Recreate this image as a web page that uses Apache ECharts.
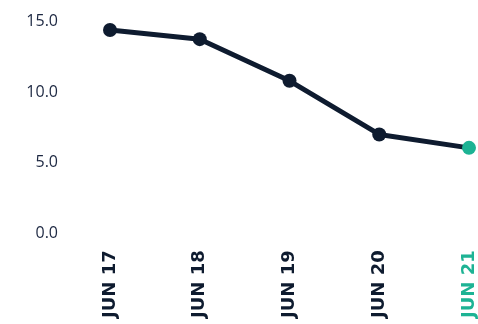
<!DOCTYPE html>
<html><head><meta charset="utf-8">
<script src="https://cdn.jsdelivr.net/npm/echarts@6/dist/echarts.min.js"></script>
<style>html,body{margin:0;padding:0;background:#fff}#c{width:478px;height:324px}</style>
</head><body><div id="c"></div>
<script>
var categories = ['JUN 17', 'JUN 18', 'JUN 19', 'JUN 20', 'JUN 21'];
var values = [14.4, 13.75, 10.8, 7.0, 6.05];
var yTicks = [0, 5, 10, 15];

var navy = '#0e1b2f';
var teal = '#1db394';
var last = values.length - 1;
var chart = echarts.init(document.getElementById('c'));
chart.setOption({
  animation: false,
  grid: { left: 110, right: 9, top: 21.5, bottom: 90.7, outerBoundsMode: 'none', containLabel: false },
  xAxis: {
    type: 'category', data: categories, boundaryGap: false,
    axisLine: { show: false }, axisTick: { show: false },
    axisLabel: {
      rotate: 90, margin: 17, fontFamily: 'DejaVu Sans', fontWeight: 'bold', fontSize: 18,
      lineHeight: 18,
      color: function (v, i) { return i === last ? teal : navy; }
    }
  },
  yAxis: {
    type: 'value', min: yTicks[0], max: yTicks[yTicks.length - 1], interval: 5,
    splitLine: { show: false }, axisLine: { show: false }, axisTick: { show: false },
    axisLabel: {
      margin: 52, fontFamily: 'Open Sans', fontSize: 16, color: '#1c2741',
      formatter: function (v) { return v.toFixed(1); }
    }
  },
  series: [{
    type: 'line', symbol: 'circle', symbolSize: 14,
    lineStyle: { color: navy, width: 5 },
    itemStyle: { color: navy },
    data: values.map(function (v, i) {
      return i === last ? { value: v, itemStyle: { color: teal } } : v;
    })
  }]
});
</script></body></html>
